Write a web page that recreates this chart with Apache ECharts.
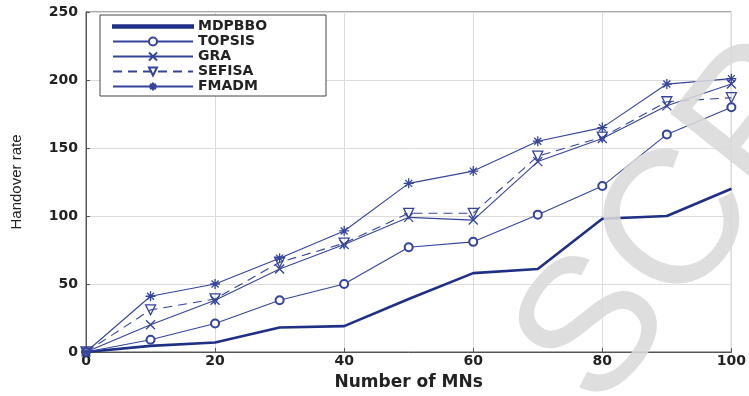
<!DOCTYPE html>
<html>
<head>
<meta charset="utf-8">
<script src="https://cdn.jsdelivr.net/npm/echarts@6/dist/echarts.min.js"></script>
<style>html,body{margin:0;padding:0;background:#fff;}#c{width:749px;height:396px;}</style>
</head>
<body>
<div id="c"></div>
<script>
var xValues = [0, 10, 20, 30, 40, 50, 60, 70, 80, 90, 100];
var mdpbbo = [0, 4.5, 7, 18, 19, 39, 58, 61, 98, 100, 120];
var topsis = [0, 9, 21, 38, 50, 77, 81, 101, 122, 160, 180];
var gra    = [0, 20, 38, 61, 79, 99, 97, 140, 157, 181, 197];
var sefisa = [0, 31, 39, 66, 80, 102, 102, 144, 158, 184, 187];
var fmadm  = [0, 41, 50, 69, 89, 124, 133, 155, 165, 197, 201];
var seriesNames = ['MDPBBO', 'TOPSIS', 'GRA', 'SEFISA', 'FMADM'];

function pairs(ys) { return xValues.map(function (x, i) { return [x, ys[i]]; }); }

var navy = '#1f2f86';
var thin = '#34449a';
var FONT = 'DejaVu Sans, Liberation Sans, Arial, sans-serif';
var SYM_X = 'path://M0,0 L10,10 M10,0 L0,10';
var SYM_TRI = 'path://M0,0 L10,0 L5,9 Z';
var SYM_STAR = 'path://M5,0 L5,10 M0,5 L10,5 M1.5,1.5 L8.5,8.5 M8.5,1.5 L1.5,8.5';

function mk(name, ys, opts) {
  return {
    name: name, type: 'line', data: pairs(ys), z: 3,
    showSymbol: !!opts.symbol, symbol: opts.symbol || 'none', symbolSize: opts.size || 9,
    lineStyle: { color: opts.color || thin, width: opts.width || 1.1, type: opts.dash ? [9, 6] : 'solid' },
    itemStyle: { color: opts.fill || 'rgba(0,0,0,0)', borderColor: opts.color || thin, borderWidth: 1.3 },
    emphasis: { disabled: true },
    animation: false
  };
}

var chart = echarts.init(document.getElementById('c'));
chart.setOption({
  animation: false,
  backgroundColor: '#fff',
  grid: { left: 86, right: 16, top: 12, bottom: 40, show: true, borderColor: '#555', borderWidth: 1 },
  legend: {
    left: 100, top: 15, orient: 'vertical',
    data: [
      { name: seriesNames[0], icon: 'path://M0,0 L80,0 L80,2.6 L0,2.6 Z' },
      { name: seriesNames[1] }, { name: seriesNames[2] }, { name: seriesNames[3] }, { name: seriesNames[4] }
    ],
    itemWidth: 80, itemHeight: 10, itemGap: 0,
    padding: [4, 8, 2, 12],
    backgroundColor: '#fff', borderColor: '#444', borderWidth: 1,
    textStyle: { fontFamily: FONT, fontWeight: 'bold', fontSize: 14, lineHeight: 15, color: '#222', width: 120 }
  },
  xAxis: {
    type: 'value', min: 0, max: 100, interval: 20,
    name: 'Number of MNs', nameLocation: 'middle', nameGap: 22,
    nameTextStyle: { fontFamily: FONT, fontWeight: 'bold', fontSize: 17, color: '#222' },
    axisLine: { lineStyle: { color: '#555' } },
    axisTick: { inside: true, length: 4, lineStyle: { color: '#555' } },
    axisLabel: { fontFamily: FONT, fontWeight: 'bold', fontSize: 14, color: '#222', margin: 2 },
    splitLine: { show: true, lineStyle: { color: '#dcdcdc' } }
  },
  yAxis: {
    type: 'value', min: 0, max: 250, interval: 50,
    name: 'Handover rate', nameLocation: 'middle', nameGap: 62, nameRotate: 90,
    nameTextStyle: { fontFamily: 'Liberation Sans Narrow, Liberation Sans, Arial, sans-serif', fontSize: 15, color: '#222' },
    axisLine: { show: true, lineStyle: { color: '#555' } },
    axisTick: { show: true, inside: true, length: 4, lineStyle: { color: '#555' } },
    axisLabel: { fontFamily: FONT, fontWeight: 'bold', fontSize: 14, color: '#222', margin: 8 },
    splitLine: { show: true, lineStyle: { color: '#dcdcdc' } }
  },
  graphic: [{
    type: 'text', x: 632, y: 440, rotation: 0.9, z: 100, silent: true,
    style: { text: 'SCRIPT', font: '190px "Liberation Sans", Arial, sans-serif', fill: 'rgba(218,218,218,0.88)', textVerticalAlign: 'bottom' }
  }],
  series: [
    mk(seriesNames[0], mdpbbo, { color: navy, width: 2.6, fill: navy }),
    mk(seriesNames[1], topsis, { symbol: 'emptyCircle', size: 8, fill: thin }),
    mk(seriesNames[2], gra, { symbol: SYM_X, size: 9 }),
    mk(seriesNames[3], sefisa, { symbol: SYM_TRI, size: 10, dash: true }),
    mk(seriesNames[4], fmadm, { symbol: SYM_STAR, size: 10 })
  ]
});
</script>
</body>
</html>
